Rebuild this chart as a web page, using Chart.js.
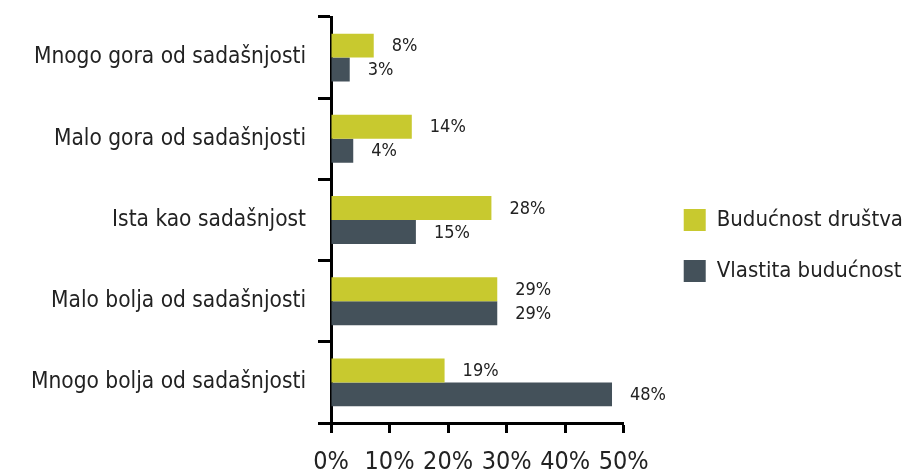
<!DOCTYPE html>
<html>
<head>
<meta charset="utf-8">
<script src="https://cdn.jsdelivr.net/npm/chart.js@4"></script>
<style>
  html, body { margin: 0; padding: 0; background: #ffffff; }
  #wrap { width: 913px; height: 474px; }
</style>
</head>
<body>
<div id="wrap"><canvas id="c" width="913" height="474"></canvas></div>
<script>
const categories = [
  "Mnogo gora od sadašnjosti",
  "Malo gora od sadašnjosti",
  "Ista kao sadašnjost",
  "Malo bolja od sadašnjosti",
  "Mnogo bolja od sadašnjosti"
];
const seriesNames = ["Budućnost društva", "Vlastita budućnost"];
const drustvoValues = [7.3, 13.8, 27.4, 28.4, 19.4];
const drustvoLabels = ["8%", "14%", "28%", "29%", "19%"];
const vlastitaValues = [3.2, 3.8, 14.5, 28.4, 48.0];
const vlastitaLabels = ["3%", "4%", "15%", "29%", "48%"];
const xTicks = [0, 10, 20, 30, 40, 50];

const FONT = "'DejaVu Sans Condensed', 'Liberation Sans Narrow', 'Roboto', sans-serif";
const TEXT = "#222222";

const valueLabelPlugin = {
  id: 'valueLabels',
  afterDatasetsDraw(chart) {
    const ctx = chart.ctx;
    const labelSets = [drustvoLabels, vlastitaLabels];
    ctx.save();
    ctx.font = "18px " + FONT;
    ctx.fillStyle = TEXT;
    ctx.textAlign = 'left';
    ctx.textBaseline = 'middle';
    chart.data.datasets.forEach((ds, di) => {
      const meta = chart.getDatasetMeta(di);
      meta.data.forEach((bar, i) => {
        ctx.fillText(labelSets[di][i], bar.x + 18, bar.y + 1);
      });
    });
    ctx.restore();
  }
};

new Chart(document.getElementById('c'), {
  type: 'bar',
  data: {
    labels: categories,
    datasets: [
      { label: seriesNames[0], data: drustvoValues, backgroundColor: '#C8C92F', borderWidth: 0 },
      { label: seriesNames[1], data: vlastitaValues, backgroundColor: '#44515A', borderWidth: 0 }
    ]
  },
  options: {
    indexAxis: 'y',
    responsive: false,
    animation: false,
    devicePixelRatio: 1,
    layout: { padding: { top: 17, left: 0, right: 0, bottom: 0 } },
    datasets: { bar: { categoryPercentage: 0.59, barPercentage: 1.0 } },
    scales: {
      y: {
        type: 'category',
        position: 'left',
        grid: { display: true, drawOnChartArea: false, drawTicks: true, tickLength: 13, tickWidth: 3, tickColor: '#000', offset: true },
        border: { display: true, color: '#000', width: 3 },
        ticks: { color: TEXT, font: { family: FONT, size: 22.5 }, padding: 12 },
        afterFit(s) { s.width = 331; s.paddingTop = 0; s.paddingBottom = 0; }
      },
      y2: {
        type: 'linear',
        position: 'right',
        display: true,
        grid: { display: false, drawOnChartArea: false },
        border: { display: false },
        ticks: { display: false },
        afterFit(s) { s.width = 31; s.paddingTop = 0; s.paddingBottom = 0; }
      },
      x: {
        type: 'linear',
        min: 0,
        max: 50,
        afterBuildTicks(s) { s.ticks = xTicks.map(v => ({ value: v })); },
        grid: { display: true, drawOnChartArea: false, drawTicks: true, tickLength: 10, tickWidth: 3, tickColor: '#000' },
        border: { display: true, color: '#000', width: 3 },
        ticks: { color: TEXT, font: { family: FONT, size: 25 }, padding: 14, maxRotation: 0, callback: v => v + '%' },
        afterFit(s) { s.height = 51; }
      }
    },
    plugins: {
      legend: {
        display: true,
        position: 'right',
        align: 'center',
        maxWidth: 400,
        labels: {
          color: TEXT,
          font: { family: FONT, size: 22 },
          boxWidth: 22,
          boxHeight: 22,
          padding: 29
        }
      },
      tooltip: { enabled: false }
    }
  },
  plugins: [valueLabelPlugin]
});
</script>
</body>
</html>
